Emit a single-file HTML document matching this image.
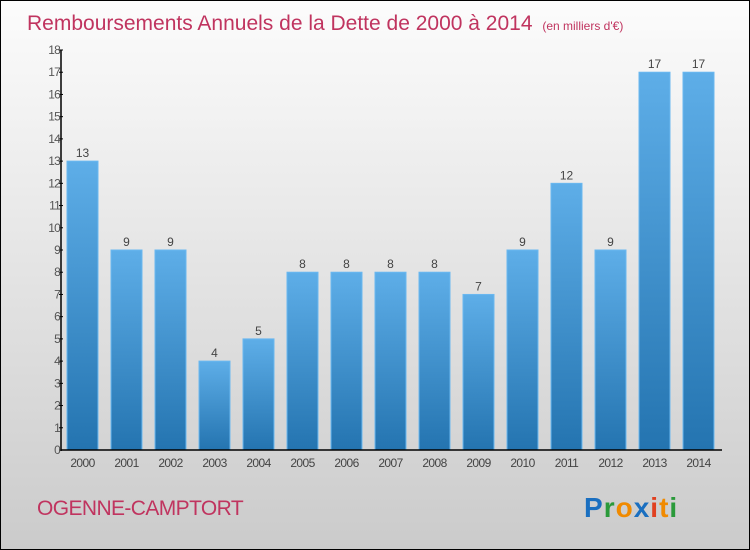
<!DOCTYPE html>
<html><head><meta charset="utf-8"><style>
body{margin:0}
#c{width:750px;height:550px;box-sizing:border-box;border:1px solid #000;background:linear-gradient(#fcfcfc,#e6e6e6 45%,#cbcbcb);position:relative;overflow:hidden;font-family:"Liberation Sans",sans-serif}
</style></head><body>
<div id="c">
<svg width="748" height="548" style="position:absolute;left:0;top:0" id="svg">
<defs><linearGradient id="bg" x1="0" y1="0" x2="0" y2="1"><stop offset="0" stop-color="#5eaee8"/><stop offset="1" stop-color="#2474b0"/></linearGradient></defs>
<text x="26" y="29" font-size="21" fill="#c0345f">Remboursements Annuels de la Dette de 2000 à 2014 <tspan font-size="12" dx="4">(en milliers d'€)</tspan></text>
<g id="bars"></g>
<g id="axes"></g>
<text x="36" y="514" font-size="21" fill="#c0345f" letter-spacing="-0.6">OGENNE-CAMPTORT</text>
<text x="583" y="516" font-size="28" font-weight="bold" letter-spacing="1"><tspan fill="#1a6fc0">P</tspan><tspan fill="#2a9a3a">r</tspan><tspan fill="#f08a00">o</tspan><tspan fill="#1a6fc0">x</tspan><tspan fill="#e04020">i</tspan><tspan fill="#f08a00">t</tspan><tspan fill="#2a9a3a">i</tspan></text>
</svg>
</div>
<script>
const years=["2000","2001","2002","2003","2004","2005","2006","2007","2008","2009","2010","2011","2012","2013","2014"];
const values=[13,9,9,4,5,8,8,8,8,7,9,12,9,17,17];
const yTicks=[0,1,2,3,4,5,6,7,8,9,10,11,12,13,14,15,16,17,18];
const NS="http://www.w3.org/2000/svg";
const y0=449,yTop=49,yMax=18,xAxis=60;
const yS=v=>y0-(y0-yTop)*v/yMax;
const xS=i=>66+i*44;
const bars=document.getElementById('bars'),axes=document.getElementById('axes');
function mk(t,a,p){const e=document.createElementNS(NS,t);for(const k in a)e.setAttribute(k,a[k]);p.appendChild(e);return e;}
values.forEach((v,i)=>{
 const r=mk('rect',{x:xS(i),y:yS(v),width:31,height:y0-yS(v),fill:'url(#bg)',stroke:'#6ab8f0','stroke-width':1},bars);
 
 
 const t=mk('text',{x:xS(i)+15.5,y:yS(v)-4,'text-anchor':'middle','font-size':12,fill:'#444'},bars);t.textContent=v;
 
 
 const l=mk('text',{x:xS(i)+15.5,y:466,'text-anchor':'middle','font-size':12,fill:'#444','letter-spacing':'-0.6'},axes);l.textContent=years[i];
 
 
});
const ya=mk('line',{x1:xAxis,y1:yTop,x2:xAxis,y2:y0+1,stroke:'#000','stroke-width':1.5},axes);


const xa=mk('line',{x1:xAxis,y1:y0,x2:721,y2:y0,stroke:'#000','stroke-width':1.5},axes);


yTicks.forEach(v=>{
 mk('line',{x1:xAxis-2,y1:yS(v),x2:xAxis+2,y2:yS(v),stroke:'#000'},axes);
 const t=mk('text',{x:xAxis-1,y:yS(v)+4,'text-anchor':'end','font-size':12,fill:'#555','letter-spacing':'-0.8'},axes);t.textContent=v;
 
 
});
</script>
</body></html>
